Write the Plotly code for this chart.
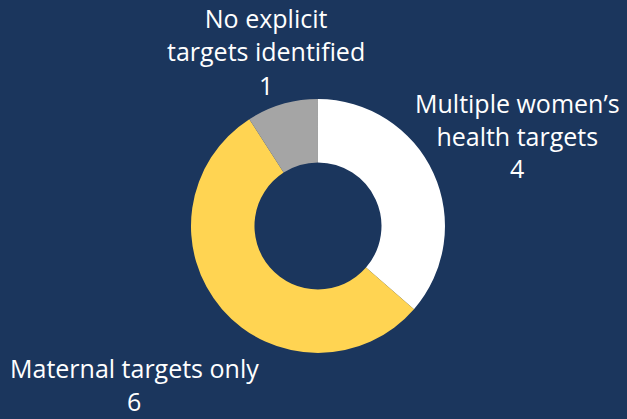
import plotly.graph_objects as go

# Countries grouped by the kind of women's health targets they set
categories = ["Multiple women\u2019s<br>health targets", "Maternal targets only", "No explicit<br>targets identified"]
counts = [4, 6, 1]
colors = ["#ffffff", "#ffd452", "#a5a5a5"]

# Label placement in pixels from the top-left: x centre, centre of the name block, centre of the count
label_x = [517, 134, 266]
name_y = [119, 368, 35]
count_y = [168, 401, 85]

BG = "#1b365d"
FONT = "Open Sans"
FONT_SIZE = 25
W, H = 627, 419

fig = go.Figure(
    go.Pie(
        labels=[c.replace("<br>", " ") for c in categories],
        values=counts,
        hole=0.5,
        sort=False,
        direction="clockwise",
        rotation=0,
        marker=dict(colors=colors, line=dict(width=0)),
        textinfo="none",
        hoverinfo="label+value",
        domain=dict(x=[0.3046, 0.7097], y=[0.1575, 0.7637]),
        showlegend=False,
    )
)


def text_note(text, xpx, ypx):
    return dict(
        text=text, x=xpx / W, y=1 - ypx / H, xref="paper", yref="paper",
        xanchor="center", yanchor="middle", showarrow=False, align="center",
        font=dict(family=FONT, size=FONT_SIZE, color="#ffffff"),
    )


annotations = []
for name, n, x, ny, cy in zip(categories, counts, label_x, name_y, count_y):
    annotations.append(text_note(name, x, ny))
    annotations.append(text_note(str(n), x, cy))

fig.update_layout(
    width=W,
    height=H,
    margin=dict(l=0, r=0, t=0, b=0),
    paper_bgcolor=BG,
    plot_bgcolor=BG,
    annotations=annotations,
)

fig.write_html("out.html")
